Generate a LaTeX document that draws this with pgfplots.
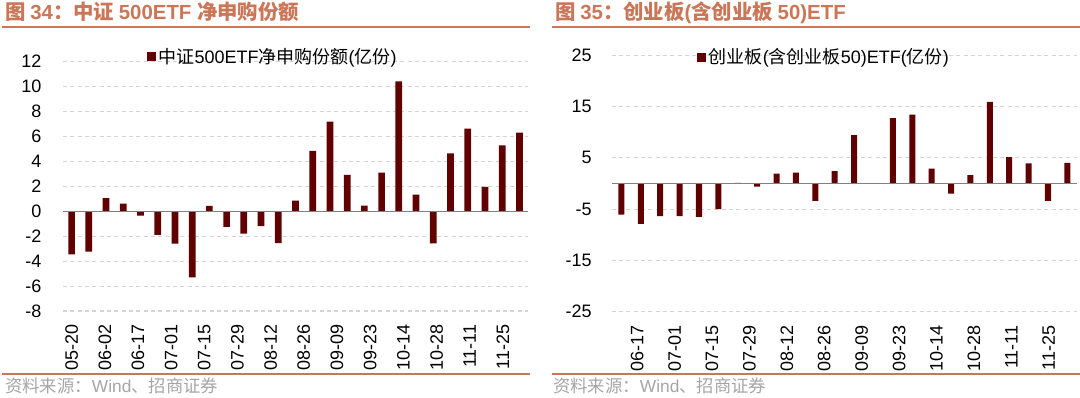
\documentclass[border=0pt]{standalone}
\usepackage{fontspec}
\setmainfont{Liberation Sans}
\newfontfamily\cjk{Noto Sans CJK SC}
\usepackage{pgfplots}
\pgfplotsset{compat=1.18}
\definecolor{barc}{RGB}{96,0,0}
\definecolor{titc}{RGB}{204,118,88}
\definecolor{gridc}{RGB}{212,212,212}
\definecolor{srcc}{RGB}{165,165,165}
\definecolor{zeroc}{RGB}{128,128,128}

\pgfplotsset{
 mystyle/.style={
  scale only axis,
  axis line style={draw=none},
  major tick length=0pt,
  ymajorgrids,
  major grid style={gridc, dash pattern=on 3pt off 2.5pt, line width=0.8pt},
  ticklabel style={font=\fontsize{13.5}{15}\selectfont},
  xticklabel style={yshift=-10pt, rotate=90, anchor=east, inner sep=0pt},
  yticklabel style={anchor=east, inner sep=0pt},
  ybar, bar shift=0pt,
  legend style={draw=none, fill=none, font=\fontsize{13.5}{15}\selectfont, anchor=west, inner sep=0pt},
  legend image code/.code={\fill[barc] (0pt,-3.4pt) rectangle (6.8pt,3.4pt);},
 }
}

\pgfplotstableread{
x y
0 -3.46
1 -3.24
2 1.05
3 0.62
4 -0.35
5 -1.9
6 -2.6
7 -5.3
8 0.43
9 -1.26
10 -1.8
11 -1.2
12 -2.55
13 0.86
14 4.85
15 7.2
16 2.92
17 0.46
18 3.1
19 10.43
20 1.34
21 -2.57
22 4.64
23 6.62
24 1.96
25 5.28
26 6.3
}\leftdata

\pgfplotstableread{
x y
0 -6.1
1 -7.9
2 -6.4
3 -6.4
4 -6.5
5 -5.0
6 0.1
7 -0.65
8 1.9
9 2.1
10 -3.4
11 2.4
12 9.4
13 0.05
14 12.7
15 13.4
16 2.9
17 -2.0
18 1.6
19 15.9
20 5.1
21 3.9
22 -3.4
23 4.0
}\rightdata

\begin{document}
\begin{tikzpicture}[x=0.75pt,y=0.75pt]
\useasboundingbox (0,0) rectangle (1080,398);
% titles
\node[anchor=base west, inner sep=0pt, text=titc, font=\bfseries\fontsize{15.3}{18}\selectfont] at (5,378) {{\cjk 图 }34{\cjk ：中证 }500ETF {\cjk 净申购份额}};
\node[anchor=base west, inner sep=0pt, text=titc, font=\bfseries\fontsize{15.3}{18}\selectfont] at (555,378) {{\cjk 图 }35{\cjk ：创业板}({\cjk 含创业板 }50)ETF};
\draw[titc, line width=1.5pt] (2,370.5) -- (530,370.5);
\draw[titc, line width=1.5pt] (552,370.5) -- (1080,370.5);
\draw[titc, line width=1pt] (2,24) -- (530,24);
\draw[titc, line width=1pt] (552,24) -- (1080,24);
\node[anchor=base west, inner sep=0pt, text=srcc, font=\fontsize{13}{15}\selectfont] at (5,5) {{\cjk 资料来源：}Wind{\cjk 、招商证券}};
\node[anchor=base west, inner sep=0pt, text=srcc, font=\fontsize{13}{15}\selectfont] at (553,5) {{\cjk 资料来源：}Wind{\cjk 、招商证券}};

\begin{axis}[mystyle, at={(47.25pt,65.25pt)}, anchor=south west,
  width=348.75pt, height=186.98pt,
  xmin=-0.5, xmax=26.5, ymin=-8, ymax=12,
  ytick={-8,-6,-4,-2,0,2,4,6,8,10,12},
  yticklabels={-8,-6,-4,-2,0,2,4,6,8,10,12},
  xtick={0,1.93,3.85,5.78,7.70,9.63,11.56,13.48,15.41,17.33,19.26,21.19,23.11,25.04},
  xticklabels={05-20,06-02,06-17,07-01,07-15,07-29,08-12,08-26,09-09,09-23,10-14,10-28,11-11,11-25},
  bar width=0.39,
  yticklabel style={xshift=-16pt},
  legend style={at={(0.18,1.019)}}]
\addplot[fill=barc, draw=none] table[x=x,y=y] {\leftdata};
\addlegendentry{{\cjk 中证}500ETF{\cjk 净申购份额}({\cjk 亿份})}
\draw[zeroc, line width=1.1pt] (axis cs:-0.5,0) -- (axis cs:26.5,0);
\end{axis}

\begin{axis}[mystyle, at={(458.8pt,64.7pt)}, anchor=south west,
  width=349pt, height=192.5pt,
  xmin=-0.5, xmax=23.5, ymin=-25, ymax=25,
  ytick={-25,-15,-5,5,15,25},
  yticklabels={-25,-15,-5,5,15,25},
  xtick={0.81,2.74,4.67,6.60,8.53,10.46,12.39,14.32,16.25,18.18,20.11,22.04},
  xticklabels={06-17,07-01,07-15,07-29,08-12,08-26,09-09,09-23,10-14,10-28,11-11,11-25},
  bar width=0.31,
  yticklabel style={xshift=-14.8pt},
  legend style={at={(0.183,0.992)}}]
\addplot[fill=barc, draw=none] table[x=x,y=y] {\rightdata};
\addlegendentry{{\cjk 创业板}({\cjk 含创业板}50)ETF({\cjk 亿份})}
\draw[zeroc, line width=1.1pt] (axis cs:-0.5,0) -- (axis cs:23.5,0);
\end{axis}
\end{tikzpicture}
\end{document}
